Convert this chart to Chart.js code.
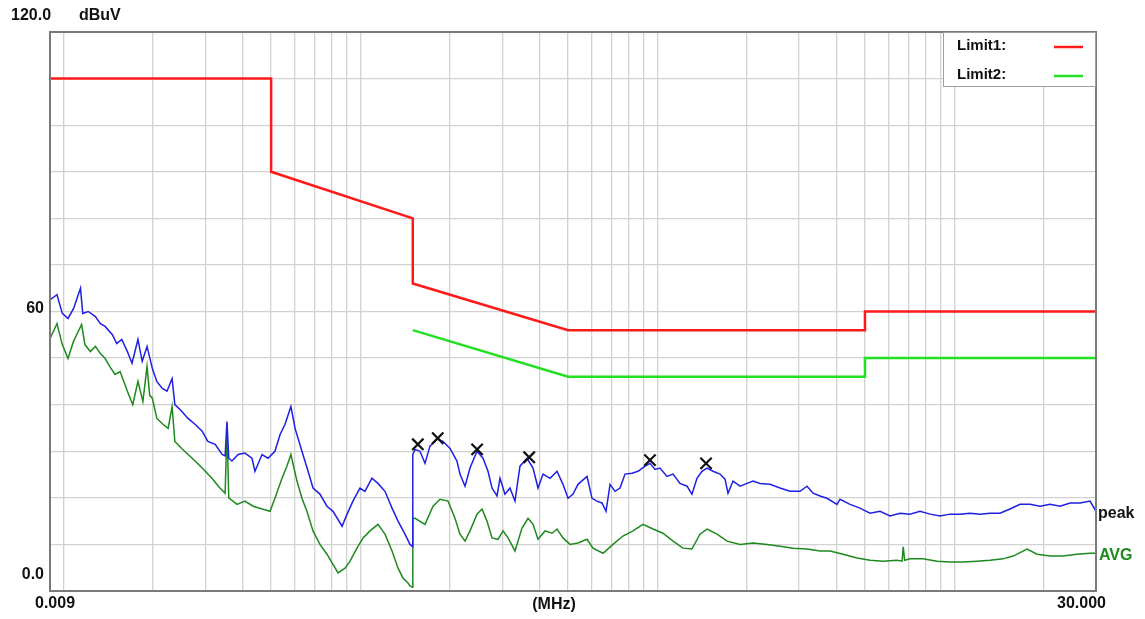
<!DOCTYPE html>
<html>
<head>
<meta charset="utf-8">
<script src="https://cdn.jsdelivr.net/npm/chart.js@4"></script>
<style>
  html, body { margin: 0; padding: 0; background: #fff; }
  #wrap { width: 1145px; height: 619px; }
</style>
</head>
<body>
<div id="wrap"><canvas id="emiChart" width="1145" height="619"></canvas></div>
<script>
// peak trace (MHz / dBuV)
const peakFreq = [
  0.009, 0.0095, 0.0099, 0.01035, 0.0108, 0.0114, 0.0116, 0.0121, 0.0128, 0.0133, 0.0138, 0.0146, 0.0151, 0.0157, 0.0164, 0.0170, 0.0178, 0.0184, 0.0191, 0.0199,
  0.0206, 0.0215, 0.0223, 0.0232, 0.0237, 0.0250, 0.0262, 0.0277, 0.0293, 0.0306, 0.0324, 0.0342, 0.0350, 0.0355, 0.0360, 0.0369, 0.0387, 0.0408, 0.0431, 0.0441,
  0.0466, 0.0488, 0.0515, 0.0536, 0.0557, 0.0583, 0.0602, 0.0635, 0.0666, 0.0692, 0.0730, 0.0771, 0.0808, 0.0867, 0.0901, 0.0943, 0.0996,
  0.1035, 0.1093, 0.1145, 0.1209, 0.1277, 0.1338, 0.1412, 0.1468, 0.1499,
  0.150, 0.1526, 0.1586, 0.1649, 0.1714, 0.1810, 0.1896, 0.2002, 0.2113, 0.2163, 0.2249, 0.2338, 0.2468, 0.2586, 0.2688, 0.2773, 0.2882, 0.2950, 0.3066, 0.3187,
  0.3314, 0.3444, 0.3638, 0.3811, 0.3962, 0.4119, 0.4348, 0.4590, 0.4808, 0.500,
  0.5196, 0.5402, 0.5793, 0.6022, 0.6258, 0.6505, 0.6714, 0.6925, 0.7199, 0.7482, 0.7780, 0.8214, 0.8605, 0.9085, 0.9443, 0.9815,
  1.020, 1.077, 1.129, 1.191, 1.258, 1.307, 1.359, 1.413, 1.469, 1.539, 1.625, 1.689, 1.729, 1.797, 1.898, 2.004, 2.099, 2.216, 2.394, 2.588,
  2.797, 3.022, 3.190, 3.344, 3.528, 3.726, 4.026, 4.121, 4.454, 4.812, 5.200, 5.619, 6.074, 6.563, 7.092, 7.664, 8.282, 8.950, 9.672,
  10.45, 11.29, 12.20, 13.19, 14.25, 15.40, 16.64, 17.99, 19.44, 21.01, 22.70, 24.53, 26.51, 28.65, 30
];
const peakLevel = [
  62.5, 63.6, 59.6, 58.5, 60.6, 65.0, 59.6, 60.0, 58.9, 57.4, 56.8, 55.0, 53.1, 54.0, 51.4, 48.9, 54.0, 49.3, 52.5, 47.8,
  45.0, 43.5, 42.9, 45.6, 40.0, 38.6, 37.1, 35.8, 34.3, 32.1, 31.5, 29.3, 29.0, 36.4, 28.5, 27.9, 29.3, 29.6, 28.5, 25.7,
  29.3, 28.5, 30.0, 33.6, 35.8, 39.6, 34.9, 30.0, 25.7, 22.1, 20.8, 18.2, 17.1, 13.9, 16.5, 19.3, 22.1,
  21.4, 24.2, 23.1, 21.4, 17.8, 15.0, 12.2, 10.0, 9.5,
  29.3, 30.4, 30.0, 27.4, 31.1, 32.6, 32.1, 30.6, 27.9, 25.1, 22.5, 26.4, 30.0, 28.5, 25.7, 22.1, 20.4, 24.2, 20.8, 22.1,
  19.3, 26.8, 28.5, 26.4, 22.1, 25.1, 24.2, 25.7, 22.9, 19.9,
  20.8, 22.9, 24.6, 19.9, 19.3, 18.9, 17.1, 22.9, 21.4, 22.1, 25.1, 25.3, 25.7, 26.8, 27.4, 26.1,
  26.4, 24.6, 25.1, 23.1, 22.5, 20.8, 24.2, 25.7, 26.4, 25.7, 25.1, 24.0, 21.0, 23.6, 22.5, 23.1, 23.6, 23.1, 22.9, 22.1,
  21.4, 21.4, 22.5, 21.0, 20.4, 19.9, 18.6, 19.7, 18.6, 17.8, 16.7, 17.1, 16.1, 16.7, 16.5, 17.1, 16.5, 16.1, 16.5,
  16.5, 16.7, 16.5, 16.7, 16.7, 17.6, 18.6, 18.6, 18.2, 18.6, 18.2, 18.9, 18.9, 19.3, 17.1
];

// average trace
const avgFreq = [
  0.009, 0.0095, 0.0099, 0.01035, 0.0108, 0.0112, 0.0115, 0.0118, 0.0123, 0.0128, 0.0133, 0.0138, 0.0143, 0.0149, 0.0155, 0.0164, 0.0171, 0.0178, 0.0185, 0.0191, 0.0195, 0.0199,
  0.0206, 0.0216, 0.0225, 0.0232, 0.0237, 0.0250, 0.0271, 0.0293, 0.0316, 0.0336, 0.0350, 0.0355, 0.0360, 0.0384, 0.0408, 0.0435, 0.0466, 0.0496, 0.0515, 0.0544, 0.0565, 0.0583, 0.0611, 0.0635, 0.0660,
  0.0692, 0.0730, 0.0771, 0.0808, 0.0840, 0.0887, 0.0922, 0.0973,
  0.1020, 0.1076, 0.1145, 0.1209, 0.1277, 0.1338, 0.1390, 0.1445, 0.1468, 0.1499,
  0.150, 0.1526, 0.1649, 0.1755, 0.1853, 0.1971, 0.2081, 0.2163, 0.2249, 0.2338, 0.2468, 0.2566, 0.2667, 0.2773, 0.2905, 0.3020, 0.3140, 0.3314, 0.3499, 0.3666,
  0.3811, 0.3962, 0.4183, 0.4416, 0.4590, 0.4808, 0.5077, 0.5402,
  0.5793, 0.6068, 0.6558, 0.7086, 0.7657, 0.8275, 0.8942, 0.9665,
  1.044, 1.129, 1.219, 1.307, 1.391, 1.469, 1.588, 1.716, 1.898, 2.099, 2.340, 2.588, 2.862, 3.190, 3.528, 3.814, 4.219, 4.702, 5.200, 5.751, 6.412, 6.665, 6.730, 6.800, 7.092, 7.845, 8.744, 9.672,
  10.70, 11.92, 13.19, 14.59, 15.77, 17.58, 18.99, 21.01, 23.23, 25.90, 28.65, 30
];
const avgLevel = [
  54.2, 57.4, 52.9, 49.9, 53.6, 55.7, 57.2, 52.9, 51.4, 52.5, 51.0, 49.9, 48.2, 46.5, 47.1, 42.9, 40.0, 45.0, 40.7, 48.2, 42.0, 41.4,
  37.1, 35.8, 34.9, 39.6, 32.1, 30.6, 28.5, 26.4, 24.2, 22.1, 21.0, 35.0, 20.0, 18.6, 19.3, 18.2, 17.6, 17.1, 19.9, 24.2, 26.8, 29.3, 23.6, 19.9, 17.1,
  12.9, 10.0, 7.9, 5.7, 3.9, 4.9, 6.4, 9.2,
  11.4, 12.9, 14.3, 12.2, 8.6, 4.9, 2.8, 1.7, 1.1, 0.8,
  15.6, 15.6, 14.3, 18.2, 19.7, 19.3, 15.6, 12.2, 10.7, 12.9, 16.5, 17.6, 15.0, 11.4, 11.1, 12.9, 11.4, 8.6, 13.5, 15.6,
  14.3, 11.1, 12.9, 12.4, 13.3, 11.4, 10.0, 10.3,
  11.1, 9.2, 8.1, 10.0, 11.8, 12.9, 14.3, 13.3,
  12.4, 10.7, 9.2, 9.0, 12.2, 13.3, 12.2, 10.7, 10.0, 10.3, 10.0, 9.6, 9.2, 9.0, 8.6, 8.6, 7.9, 7.1, 6.6, 6.4, 6.6, 6.4, 9.5, 6.6, 6.9, 6.9, 6.4, 6.2,
  6.2, 6.4, 6.6, 6.9, 7.5, 9.0, 7.9, 7.5, 7.5, 7.9, 8.1, 8.1
];

// limit lines
const limit1Freq = [0.009, 0.05, 0.05, 0.15, 0.15, 0.5, 5, 5, 30];
const limit1Level = [110, 110, 90, 80, 66, 56, 56, 60, 60];
const limit2Freq = [0.15, 0.5, 5, 5, 30];
const limit2Level = [56, 46, 46, 50, 50];

// marked peaks
const markerFreq = [0.156, 0.182, 0.247, 0.370, 0.944, 1.458];
const markerLevel = [31.5, 32.8, 30.4, 28.7, 28.1, 27.4];

// log grid: 1..9 per decade
const gridDecades = [0.01, 0.1, 1, 10];
const gridSteps = [1, 2, 3, 4, 5, 6, 7, 8, 9];

function toPoints(fs, ls) {
  return fs.map((f, i) => ({ x: f, y: ls[i] }));
}

const gridFreqs = [0.009];
gridDecades.forEach(d => gridSteps.forEach(s => {
  const v = +(d * s).toPrecision(3);
  if (v <= 30) gridFreqs.push(v);
}));
gridFreqs.push(30);

const FONT = '"Liberation Sans", Arial, sans-serif';

// frame, axis texts, legend box
const decorPlugin = {
  id: "decor",
  beforeDraw(chart) {
    const c = chart.ctx;
    c.save();
    c.fillStyle = "#fff";
    c.fillRect(0, 0, chart.width, chart.height);
    c.restore();
  },
  afterDraw(chart) {
    const c = chart.ctx;
    const a = chart.chartArea;
    const y = chart.scales.y;
    c.save();
    c.strokeStyle = "#7a7a7a";
    c.lineWidth = 2;
    c.strokeRect(a.left, a.top, a.right - a.left, a.bottom - a.top);

    // legend
    c.fillStyle = "#fff";
    c.fillRect(943, a.top + 1, a.right - 944, 54);
    c.strokeStyle = "#a0a0a0";
    c.lineWidth = 1;
    c.strokeRect(943.5, a.top + 0.5, a.right - 944, 54);
    c.fillStyle = "#111";
    c.font = "bold 15px " + FONT;
    c.textBaseline = "middle";
    c.textAlign = "left";
    c.fillText("Limit1:", 957, 46);
    c.fillText("Limit2:", 957, 75);
    c.lineWidth = 2.5;
    c.strokeStyle = "#ff1a1a";
    c.beginPath(); c.moveTo(1054, 47); c.lineTo(1083, 47); c.stroke();
    c.strokeStyle = "#22e022";
    c.beginPath(); c.moveTo(1054, 76); c.lineTo(1083, 76); c.stroke();

    // axis texts
    c.fillStyle = "#111";
    c.font = "bold 16px " + FONT;
    c.textAlign = "left";
    c.fillText("120.0", 11, 16);
    c.fillText("dBuV", 79, 16);
    c.textAlign = "right";
    c.fillText("60", 44, y.getPixelForValue(60) - 3);
    c.fillText("0.0", 44, y.getPixelForValue(0) - 16);
    c.textAlign = "left";
    c.fillText("0.009", 35, 604);
    c.textAlign = "center";
    c.fillText("(MHz)", 554, 605);
    c.textAlign = "right";
    c.fillText("30.000", 1106, 604);
    c.textAlign = "left";
    c.fillText("peak", 1098, 514);
    c.fillStyle = "#1c8c1c";
    c.fillText("AVG", 1099, 556);
    c.restore();
  }
};

new Chart(document.getElementById("emiChart"), {
  type: "line",
  data: {
    datasets: [
      {
        label: "markers",
        data: toPoints(markerFreq, markerLevel),
        showLine: false,
        pointStyle: "crossRot",
        pointRadius: 8,
        pointBorderWidth: 2.2,
        pointBorderColor: "#111",
        pointBackgroundColor: "#111"
      },
      {
        label: "Limit1",
        data: toPoints(limit1Freq, limit1Level),
        borderColor: "#ff1a1a",
        borderWidth: 2.5
      },
      {
        label: "Limit2",
        data: toPoints(limit2Freq, limit2Level),
        borderColor: "#22e022",
        borderWidth: 2.5
      },
      {
        label: "peak",
        data: toPoints(peakFreq, peakLevel),
        borderColor: "#1f1fe6",
        borderWidth: 1.5
      },
      {
        label: "AVG",
        data: toPoints(avgFreq, avgLevel),
        borderColor: "#1e8a1e",
        borderWidth: 1.5
      }
    ]
  },
  options: {
    responsive: false,
    animation: false,
    layout: { padding: { left: 50, top: 32, right: 49, bottom: 28 } },
    elements: {
      point: { radius: 0 },
      line: { tension: 0, fill: false }
    },
    plugins: {
      legend: { display: false },
      tooltip: { enabled: false }
    },
    scales: {
      x: {
        type: "logarithmic",
        min: 0.009,
        max: 30,
        afterBuildTicks(scale) {
          scale.ticks = gridFreqs.map(v => ({ value: v }));
        },
        ticks: { display: false },
        grid: { color: "#d2d2d2", lineWidth: 1.3, drawTicks: false },
        border: { display: false }
      },
      y: {
        min: 0,
        max: 120,
        ticks: { display: false, stepSize: 10 },
        grid: { color: "#d2d2d2", lineWidth: 1.3, drawTicks: false },
        border: { display: false }
      }
    }
  },
  plugins: [decorPlugin]
});
</script>
</body>
</html>
